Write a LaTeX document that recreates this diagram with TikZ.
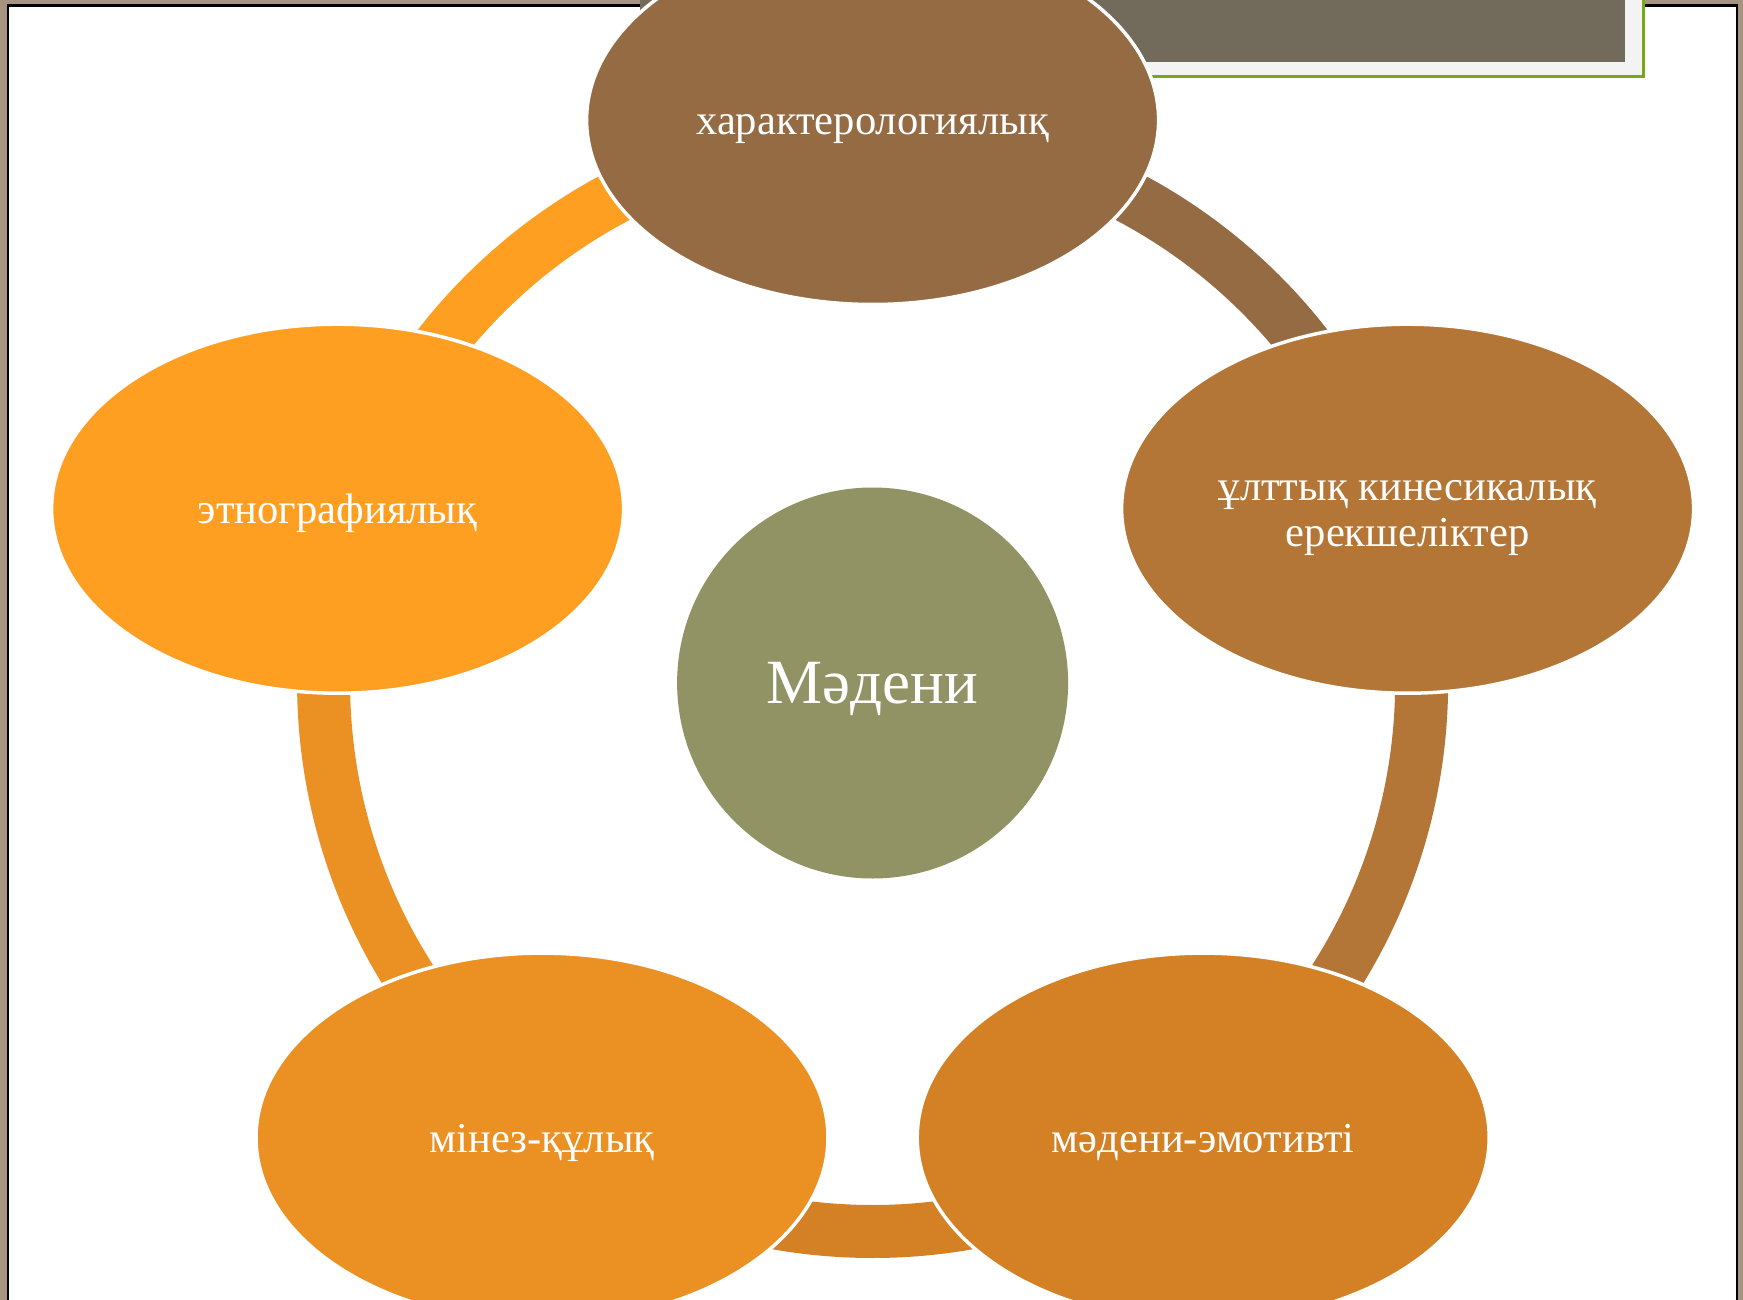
\documentclass[tikz,border=0pt]{standalone}
\usepackage{fontspec}
\setmainfont{Liberation Serif}
\usetikzlibrary{shapes.geometric}
\definecolor{bgtan}{HTML}{A69480}
\definecolor{ctop}{HTML}{956B44}
\definecolor{cright}{HTML}{B37636}
\definecolor{cbr}{HTML}{D48024}
\definecolor{cbl}{HTML}{EB9022}
\definecolor{cleft}{HTML}{FE9F22}
\definecolor{ccenter}{HTML}{919364}
\definecolor{boxgrey}{HTML}{726A5A}
\definecolor{boxframe}{HTML}{F3F3F3}
\definecolor{boxgreen}{HTML}{76A912}
\tikzset{
  petal/.style={ellipse, minimum width=572pt, minimum height=369pt, inner sep=0pt,
    draw=white, line width=3.5pt, text=white, font=\fontsize{42.6}{46}\selectfont, align=center,
    text height=30pt, text depth=0pt},
  ringseg/.style={line width=53pt, line cap=butt},
  hub/.style={circle, minimum size=391pt, inner sep=0pt, fill=ccenter, text=white,
    font=\fontsize{63}{70}\selectfont, text height=40pt, text depth=0pt}
}
\begin{document}
\begin{tikzpicture}[x=1pt,y=-1pt]
\useasboundingbox (0,0) rectangle (1743,1300);
\begin{scope}
\clip (0,0) rectangle (1743,1300);
% background
\fill[bgtan] (0,0) rectangle (1743,1300);
\fill[white, draw=black, line width=2.5pt] (8,5.5) rectangle (1737,1320);
% title box
\fill[boxgreen] (640,0) rectangle (1645,78);
\fill[boxframe] (640,0) rectangle (1642,75);
\fill[boxgrey] (640,0) rectangle (1625,62);
% ring
\coordinate (c) at (872.6,682.5);
\draw[ringseg, ctop]   (c) ++(-90:549) arc[start angle=-90, end angle=-18, radius=549];
\draw[ringseg, cright] (c) ++(-18:549) arc[start angle=-18, end angle=54, radius=549];
\draw[ringseg, cbr]    (c) ++(54:549)  arc[start angle=54, end angle=126, radius=549];
\draw[ringseg, cbl]    (c) ++(126:549) arc[start angle=126, end angle=198, radius=549];
\draw[ringseg, cleft]  (c) ++(198:549) arc[start angle=198, end angle=270, radius=549];
% nodes
\node[petal, fill=ctop]   (top)   at (872.6,120)    {характерологиялық};
\node[petal, fill=cright, text height=76pt] (right) at (1407.6,508.7) {ұлттық кинесикалық\\ерекшеліктер};
\node[petal, fill=cbr]    (br)    at (1203.2,1137.6){мәдени-эмотивті};
\node[petal, fill=cbl]    (bl)    at (542,1137.6)   {мінез-құлық};
\node[petal, fill=cleft]  (left)  at (337.6,508.7)  {этнографиялық};
\node[hub] (hub) at (872.6,683) {Мәдени};
\end{scope}
\end{tikzpicture}
\end{document}
